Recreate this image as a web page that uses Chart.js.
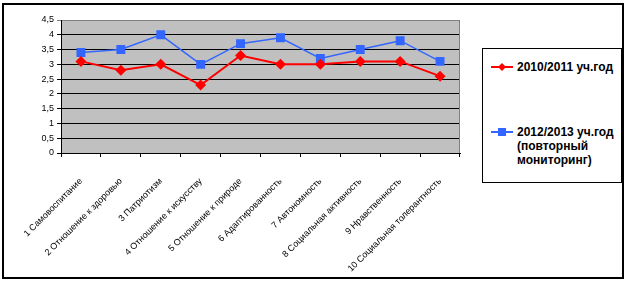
<!DOCTYPE html>
<html>
<head>
<meta charset="utf-8">
<script src="https://cdn.jsdelivr.net/npm/chart.js@4.4.1/dist/chart.umd.min.js"></script>
<style>
  html, body { margin: 0; padding: 0; background: #fff; }
  #wrap { position: relative; width: 629px; height: 284px; }
  #frame { position: absolute; left: 2px; top: 3px; width: 618px; height: 272px; border: 2px solid #000; }
  #chartCanvas { position: absolute; left: 0; top: 0; }
  #legend { position: absolute; left: 482px; top: 48px; width: 138px; height: 133px; border: 1px solid #000; background: #fff;
            font-family: "Liberation Sans", Arial, sans-serif; font-weight: bold; font-size: 12px; color: #000; }
  .item { position: absolute; left: 8px; }
  .sample { position: absolute; left: 0; width: 22px; height: 12px; }
  .txt { position: absolute; left: 26px; white-space: nowrap; line-height: 14px; }
</style>
</head>
<body>
<div id="wrap">
  <div id="frame"></div>
  <canvas id="chartCanvas" width="629" height="284"></canvas>
  <div id="legend"></div>
</div>
<script>
// Категории (показатели)
const categories = [
  '1 Самовоспитание',
  '2 Отношение к здоровью',
  '3 Патриотизм',
  '4 Отношение к искусству',
  '5 Отношение к природе',
  '6 Адаптированность',
  '7 Автономность',
  '8 Социальная активность',
  '9 Нравственность',
  '10 Социальная толерантность'
];

// Значения серий
const values2010 = [3.1, 2.8, 3.0, 2.3, 3.3, 3.0, 3.0, 3.1, 3.1, 2.6];
const values2012 = [3.4, 3.5, 4.0, 3.0, 3.7, 3.9, 3.2, 3.5, 3.8, 3.1];

// Подписи серий (легенда)
const seriesNames = ['2010/2011 уч.год', '2012/2013 уч.год (повторный мониторинг)'];
const legendLines = [['2010/2011 уч.год'], ['2012/2013 уч.год', '(повторный', 'мониторинг)']];

const FONT = '"Liberation Sans", Arial, sans-serif';

// Серый фон области построения
const plotBackground = {
  id: 'plotBackground',
  beforeDraw(chart) {
    const { ctx, chartArea: a } = chart;
    ctx.save();
    ctx.fillStyle = '#c0c0c0';
    ctx.fillRect(a.left, a.top, a.right - a.left, a.bottom - a.top);
    ctx.restore();
  },
  afterDatasetsDraw(chart) {
    // правая граница области (серая)
    const { ctx, chartArea: a } = chart;
    ctx.save();
    ctx.strokeStyle = '#808080';
    ctx.lineWidth = 1;
    ctx.beginPath();
    ctx.moveTo(a.right - 0.5, a.top);
    ctx.lineTo(a.right - 0.5, a.bottom);
    ctx.stroke();
    ctx.restore();
  }
};

const ctx = document.getElementById('chartCanvas').getContext('2d');

new Chart(ctx, {
  type: 'line',
  data: {
    labels: categories,
    datasets: [{
      label: seriesNames[0],
      data: values2010,
      borderColor: '#ff0000',
      backgroundColor: '#ff0000',
      borderWidth: 2,
      pointStyle: 'rectRot',
      pointRadius: 5.5,
      pointBorderWidth: 0,
      tension: 0
    }, {
      label: seriesNames[1],
      data: values2012,
      borderColor: '#3366ff',
      backgroundColor: '#3366ff',
      borderWidth: 1.5,
      pointStyle: 'rect',
      pointRadius: 6.3,
      pointBorderWidth: 0,
      tension: 0
    }]
  },
  options: {
    responsive: false,
    animation: false,
    layout: { padding: { top: 20, right: 169, left: 0, bottom: 0 } },
    plugins: {
      legend: { display: false },
      tooltip: { enabled: false }
    },
    scales: {
      y: {
        min: 0,
        max: 4.5,
        afterFit(scale) { scale.width = 61; },
        ticks: {
          stepSize: 0.5,
          color: '#000',
          padding: 3,
          font: { family: FONT, size: 9 },
          callback: (v) => String(v).replace('.', ',')
        },
        grid: {
          color: (c) => (c.tick && c.tick.value === 4.5 ? '#808080' : '#000'),
          tickLength: 4,
          lineWidth: 1
        },
        border: { color: '#000', width: 1 }
      },
      x: {
        offset: true,
        afterFit(scale) { scale.height = 131; },
        ticks: {
          autoSkip: false,
          minRotation: 45,
          maxRotation: 45,
          color: '#000',
          padding: 19,
          font: { family: FONT, size: 9 }
        },
        grid: {
          offset: true,
          drawOnChartArea: false,
          color: '#000',
          tickLength: 4
        },
        border: { color: '#000', width: 1 }
      }
    }
  },
  plugins: [plotBackground]
});

// HTML-легенда в рамке
const legend = document.getElementById('legend');
const markers = [
  { color: '#ff0000', shape: 'diamond', top: 12 },
  { color: '#3366ff', shape: 'square', top: 77 }
];
markers.forEach((m, i) => {
  const item = document.createElement('div');
  item.className = 'item';
  item.style.top = m.top + 'px';
  const c = document.createElement('canvas');
  c.className = 'sample';
  c.width = 22; c.height = 12;
  const g = c.getContext('2d');
  g.strokeStyle = m.color; g.fillStyle = m.color; g.lineWidth = 2;
  g.beginPath(); g.moveTo(0, 6); g.lineTo(22, 6); g.stroke();
  g.beginPath();
  if (m.shape === 'diamond') {
    g.moveTo(11, 2); g.lineTo(15, 6); g.lineTo(11, 10); g.lineTo(7, 6); g.closePath();
  } else {
    g.rect(7, 2, 8, 8);
  }
  g.fill();
  item.appendChild(c);
  const t = document.createElement('div');
  t.className = 'txt';
  t.style.top = '-1px';
  t.innerHTML = legendLines[i].join('<br>');
  item.appendChild(t);
  legend.appendChild(item);
});
</script>
</body>
</html>
